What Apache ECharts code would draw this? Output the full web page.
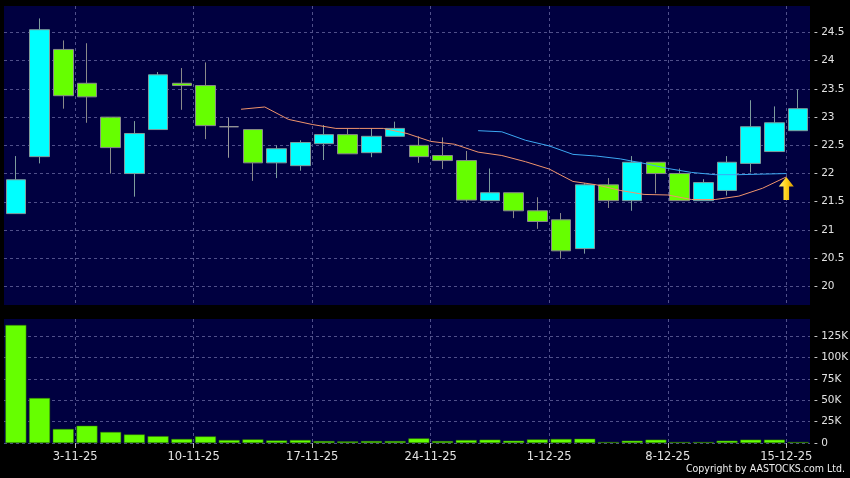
<!DOCTYPE html>
<html>
<head>
<meta charset="utf-8">
<script src="https://cdn.jsdelivr.net/npm/echarts@6/dist/echarts.min.js"></script>
<style>
html,body{margin:0;padding:0;background:#000;}
#c{width:850px;height:478px;}
</style>
</head>
<body>
<div id="c"></div>
<script>
// ---- data ----
const dates = ['28-10-25','30-10-25','31-10-25','3-11-25','4-11-25','5-11-25','6-11-25','7-11-25',
  '10-11-25','11-11-25','12-11-25','13-11-25','14-11-25','17-11-25','18-11-25','19-11-25','20-11-25','21-11-25',
  '24-11-25','25-11-25','26-11-25','27-11-25','28-11-25','1-12-25','2-12-25','3-12-25','4-12-25','5-12-25',
  '8-12-25','9-12-25','10-12-25','11-12-25','12-12-25','15-12-25'];
const open  = [21.29,22.30,24.20,23.60,23.00,22.00,22.78,23.60,23.56,22.83,22.78,22.19,22.14,22.53,22.69,22.37,22.66,
  22.50,22.32,22.23,21.52,21.66,21.34,21.18,20.67,21.80,21.52,22.20,22.00,21.52,21.70,22.18,22.39,22.76];
const close = [21.89,24.55,23.38,23.36,22.46,22.71,23.75,23.56,22.85,22.83,22.19,22.44,22.55,22.69,22.35,22.66,22.80,
  22.30,22.23,21.53,21.66,21.34,21.15,20.63,21.80,21.52,22.20,22.00,21.52,21.84,22.20,22.83,22.90,23.15];
const low   = [21.29,22.18,23.15,22.90,22.00,21.59,22.78,23.13,22.61,22.28,21.87,21.92,22.05,22.24,22.35,22.29,22.66,
  22.19,22.08,21.50,21.52,21.21,21.02,20.49,20.58,21.39,21.34,21.65,21.52,21.52,21.61,22.02,22.39,22.76];
const high  = [22.31,24.75,24.36,24.31,23.00,22.93,23.80,23.87,23.97,22.99,22.78,22.50,22.59,22.86,22.80,22.80,22.92,
  22.66,22.64,22.40,22.09,21.66,21.58,21.30,21.83,21.92,22.31,22.20,22.09,21.90,22.31,23.30,23.19,23.49];
const volume = [138000,52600,16400,20200,12900,10000,8000,4700,7700,3500,4200,3000,3500,2300,1900,2300,2300,5400,
  2300,3500,3900,2700,4200,4700,5000,600,2700,3900,1000,1000,2700,3900,3900,600];
// moving averages (null where not drawn)
const ma10 = [null,null,null,null,null,null,null,null,null,
  23.14,23.18,22.96,22.87,22.80,22.80,22.80,22.71,22.57,22.52,22.38,22.32,22.21,22.08,21.86,21.80,21.70,21.63,
  21.62,21.54,21.54,21.60,21.74,21.94,null];
const ma20 = [null,null,null,null,null,null,null,null,null,null,null,null,null,null,null,null,null,null,null,
  22.76,22.74,22.59,22.49,22.34,22.31,22.26,22.18,22.09,22.02,21.98,21.98,21.99,22.00,null];
const signalDay = 32;
const xTickLabels = ['3-11-25','10-11-25','17-11-25','24-11-25','1-12-25','8-12-25','15-12-25'];
const priceTicks = [20,20.5,21,21.5,22,22.5,23,23.5,24,24.5];
const volumeTicks = [0,25000,50000,75000,100000,125000];

// ---- chart ----
const gridCol = '#50508a';
const textCol = '#e2e2e2';
const labelFont = '"DejaVu Sans", Verdana, sans-serif';
const weekPos = xTickLabels.map(l => dates.indexOf(l) - 0.5);
const posToLabel = v => { const i = Math.round(v + 0.5); return dates[i] || ''; };
const kdata = dates.map((d, i) => [open[i], close[i], low[i], high[i]]);
const maPairs = arr => arr.map((v, i) => v == null ? null : [i + 0.5, v]).filter(p => p);
const dashed = {show: true, lineStyle: {color: gridCol, type: [3, 3], width: 1}};

const chart = echarts.init(document.getElementById('c'), null, {renderer: 'canvas'});
chart.setOption({
  backgroundColor: '#000000',
  animation: false,
  grid: [
    {left: 4, right: 40, top: 6, height: 299, show: true, backgroundColor: '#000040', borderWidth: 0, outerBoundsMode: 'none'},
    {left: 4, right: 40, top: 319, height: 124, show: true, backgroundColor: '#000040', borderWidth: 0, outerBoundsMode: 'none'}
  ],
  xAxis: [
    {type: 'category', gridIndex: 0, data: dates, show: false, boundaryGap: true},
    {type: 'category', gridIndex: 1, data: dates, show: false, boundaryGap: true},
    {type: 'value', gridIndex: 0, min: -0.5, max: dates.length - 0.5,
      axisLine: {show: false}, axisTick: {show: false, customValues: weekPos},
      axisLabel: {show: false}, splitLine: dashed},
    {type: 'value', gridIndex: 1, min: -0.5, max: dates.length - 0.5, position: 'bottom',
      axisLine: {show: false},
      axisTick: {show: true, customValues: weekPos, length: 5, lineStyle: {color: '#bbbbbb'}},
      axisLabel: {show: true, customValues: weekPos, formatter: posToLabel, color: textCol,
        fontSize: 11.5, fontFamily: labelFont, margin: 8},
      splitLine: dashed}
  ],
  yAxis: [
    {type: 'value', gridIndex: 0, position: 'right', min: 19.67, max: 24.97,
      axisLine: {show: false}, axisTick: {show: false, customValues: priceTicks},
      axisLabel: {customValues: priceTicks, formatter: v => '- ' + v, color: textCol,
        fontSize: 10.5, fontFamily: labelFont, margin: 4},
      splitLine: dashed},
    {type: 'value', gridIndex: 1, position: 'right', min: 0, max: 145000,
      axisLine: {show: false}, axisTick: {show: false, customValues: volumeTicks},
      axisLabel: {customValues: volumeTicks, formatter: v => '- ' + (v === 0 ? '0' : (v / 1000) + 'K'),
        color: textCol, fontSize: 10.5, fontFamily: labelFont, margin: 4},
      splitLine: dashed}
  ],
  graphic: [
    {type: 'text', right: 5, top: 464, z: 100,
      style: {text: 'Copyright by AASTOCKS.com Ltd.', fill: '#eeeeee', fontSize: 10.5,
        fontFamily: '"DejaVu Sans Condensed", "DejaVu Sans", sans-serif'}}
  ],
  series: [
    {type: 'candlestick', xAxisIndex: 0, yAxisIndex: 0, data: kdata, barWidth: 20,
      itemStyle: {color: '#00ffff', color0: '#66ff00', borderColor: '#7d9c9c', borderColor0: '#8a8a8a',
        borderColorDoji: '#9a9a9a', borderWidth: 1}},
    {type: 'bar', xAxisIndex: 1, yAxisIndex: 1, data: volume, barWidth: 21, barMinHeight: 1,
      itemStyle: {color: '#66ff00', borderColor: '#2a6a00', borderWidth: 0.5}},
    {type: 'line', xAxisIndex: 2, yAxisIndex: 0, data: maPairs(ma10), showSymbol: false, symbol: 'none',
      lineStyle: {color: '#f0946c', width: 1}, z: 5,
      markPoint: {symbol: 'path://M8,0 L16,10 L11,10 L11,24 L5,24 L5,10 L0,10 Z', symbolSize: [15, 23],
        symbolOffset: [0, '50%'], label: {show: false},
        itemStyle: {color: new echarts.graphic.LinearGradient(0, 0, 1, 0, [
          {offset: 0, color: '#fff27a'}, {offset: 0.5, color: '#ffd21a'}, {offset: 1, color: '#d99a00'}])},
        data: [{coord: [signalDay + 0.5, ma10[signalDay]]}]}},
    {type: 'line', xAxisIndex: 2, yAxisIndex: 0, data: maPairs(ma20), showSymbol: false, symbol: 'none',
      lineStyle: {color: '#3ca8f2', width: 1}, z: 5}
  ]
});
</script>
</body>
</html>
